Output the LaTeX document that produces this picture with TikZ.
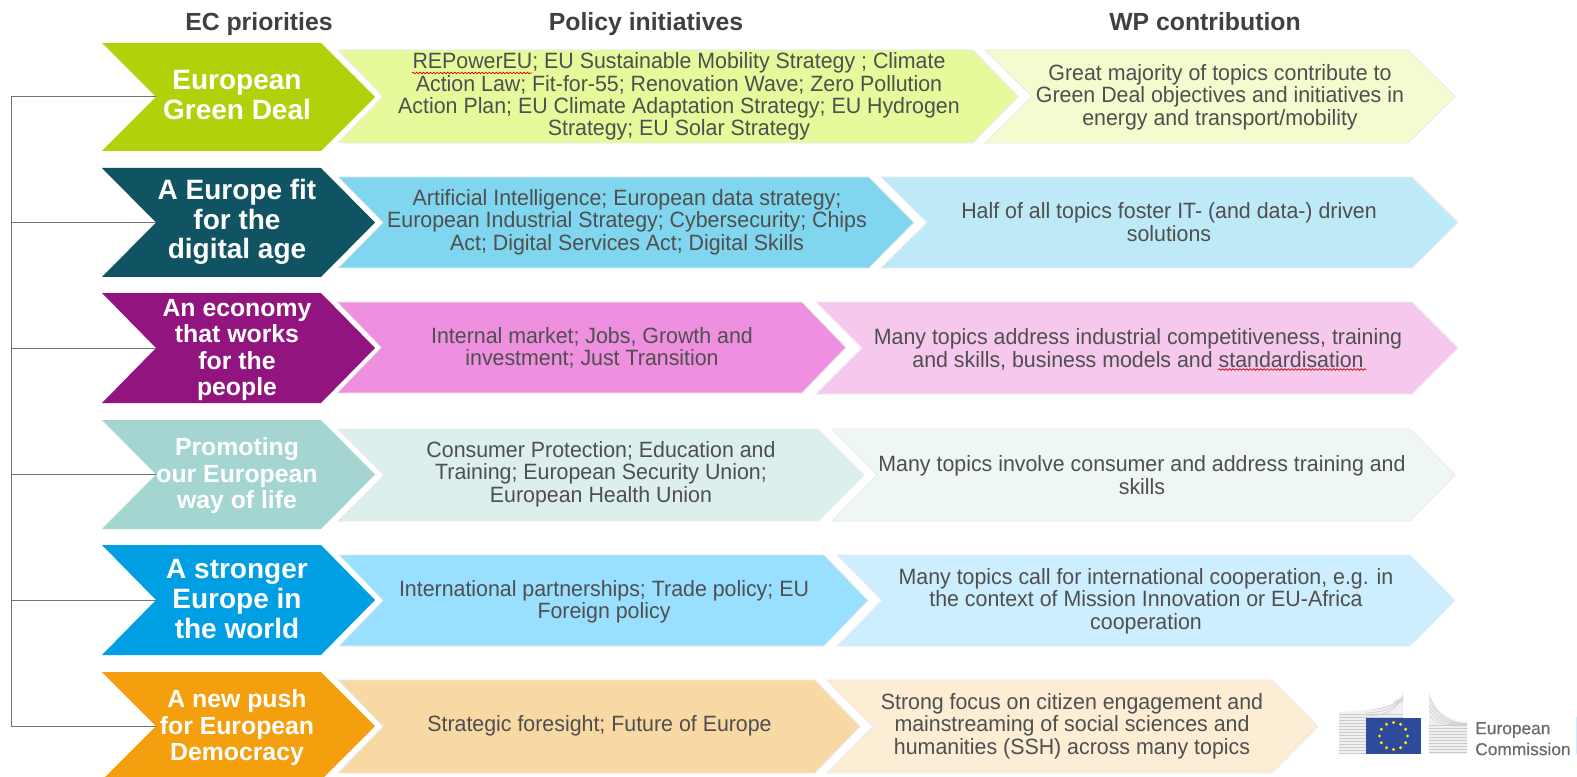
\documentclass[tikz,border=0pt]{standalone}
\usepackage{fontspec}
\setmainfont{Liberation Sans}
\newfontfamily\bodyf[FakeStretch=0.965]{Liberation Sans}
\newfontfamily\logof[FakeBold=0.5]{Liberation Sans}
\usetikzlibrary{decorations.pathmorphing}
\definecolor{txtdark}{HTML}{4F4F4F}
\definecolor{headc}{HTML}{404040}
\definecolor{flagblue}{HTML}{2E4A9C}
\definecolor{sliver}{HTML}{CCEEFF}
\tikzset{
  x=0.75pt,y=-0.75pt,
  lab/.style={inner sep=0pt,align=center,anchor=center},
  head/.style={inner sep=0pt,anchor=base,font=\fontsize{18.6pt}{20pt}\selectfont\bfseries,text=headc},
  body/.style={lab,yshift=-1.5pt,font=\bodyf\fontsize{16.6pt}{16.75pt}\selectfont,text=txtdark},
  bigw/.style={lab,font=\fontsize{21pt}{22.2pt}\selectfont\bfseries,text=white},
  smallw/.style={lab,font=\fontsize{18.6pt}{19.9pt}\selectfont\bfseries,text=white},
  logotext/.style={lab,anchor=west,text=black!58,font=\logof\fontsize{13pt}{14pt}\selectfont},
  conn/.style={draw=black!55,line width=0.75pt},
  squig/.style={draw=red!80!black,line width=0.5pt,decorate,decoration={snake,amplitude=0.6pt,segment length=2.6pt}},
  Aa/.code={\definecolor{cf}{HTML}{#1}\pgfkeysalso{fill=cf,draw=none}},
  Bb/.code={\definecolor{cf}{HTML}{#1}\pgfkeysalso{fill=cf,draw=black!8,line width=0.7pt}},
}
% name, fill style, x0, xTopRight, xTip, yTop, yBottom, text position, node style+text
\newcommand\chev[9]{%
  \path[#2] (#3,#6) -- (#4,#6) -- (#5,{(#6+#7)/2}) -- (#4,#7) -- (#3,#7) -- ({#3+#5-#4},{(#6+#7)/2}) -- cycle;
  \coordinate (#1-n) at ({#3+#5-#4},{(#6+#7)/2});
  \node[#9] (#1) at #8}
\begin{document}
\begin{tikzpicture}
\clip (0,0) rectangle (1577,777);
\fill[white] (0,0) rectangle (1577,777);
% headings
\node[head] (h1) at (259,30.5) {EC priorities};
\node[head] (h2) at (646,30.5) {Policy initiatives};
\node[head] (h3) at (1205,30.5) {WP contribution};
% row 1
\chev{a1}{Aa=AFD20B}{102}{321}{375}{43}{151}{(237,95)}{bigw}{European\\Green Deal};
\chev{b1}{Bb=E6F99B}{338}{973}{1018}{50}{143}{(679,94.5)}{body}{REPowerEU; EU Sustainable Mobility Strategy ; Climate\\Action Law; Fit-for-55; Renovation Wave; Zero Pollution\\Action Plan; EU Climate Adaptation Strategy; EU Hydrogen\\Strategy; EU Solar Strategy};
\chev{c1}{Bb=F3FBCF}{985}{1408}{1455}{50}{143}{(1220,95)}{body}{Great majority of topics contribute to\\Green Deal objectives and initiatives in\\energy and transport/mobility};
% row 2
\chev{a2}{Aa=105362}{102}{321}{375}{168}{277}{(237,222)}{bigw}{A Europe fit\\for the\\digital age};
\chev{b2}{Bb=80D6EE}{338}{869}{914}{177}{268}{(627,220)}{body}{Artificial Intelligence; European data strategy;\\European Industrial Strategy; Cybersecurity; Chips\\Act; Digital Services Act; Digital Skills};
\chev{c2}{Bb=BEEAF7}{881}{1412}{1458}{177}{268}{(1169,220)}{body}{Half of all topics foster IT- (and data-) driven\\solutions};
% row 3
\chev{a3}{Aa=92157F}{102}{321}{375}{293}{403}{(237,350)}{smallw}{An economy\\that works\\for the\\people};
\chev{b3}{Bb=EE8FDF}{337}{802}{846}{302}{393}{(592,346)}{body}{Internal market; Jobs, Growth and\\investment; Just Transition};
\chev{c3}{Bb=F6C8EE}{816}{1412}{1458}{302}{394}{(1138,347.5)}{body}{Many topics address industrial competitiveness, training\\and skills, business models and standardisation};
% row 4
\chev{a4}{Aa=A4D5D0}{102}{321}{375}{420}{529}{(237,476)}{smallw}{Promoting\\our European\\way of life};
\chev{b4}{Bb=DCEFEC}{338}{818}{864}{429}{521}{(601,472)}{body}{Consumer Protection; Education and\\Training; European Security Union;\\European Health Union};
\chev{c4}{Bb=EEF7F6}{832}{1410}{1455}{429}{521}{(1142,473)}{body}{Many topics involve consumer and address training and\\skills};
% row 5
\chev{a5}{Aa=009FE3}{102}{321}{375}{545}{655}{(237,599)}{bigw}{A stronger\\Europe in\\the world};
\chev{b5}{Bb=99DFFF}{339}{824}{868}{555}{646}{(604,599.5)}{body}{International partnerships; Trade policy; EU\\Foreign policy};
\chev{c5}{Bb=CCEEFF}{837}{1410}{1455}{555}{646}{(1146,599)}{body}{Many topics call for international cooperation, e.g. in\\the context of Mission Innovation or EU-Africa\\cooperation};
% row 6
\chev{a6}{Aa=F49F0E}{102}{321}{375}{672}{780}{(237,728)}{smallw}{A new push\\for European\\Democracy};
\chev{b6}{Bb=F8D9A4}{338}{815}{860}{680}{773}{(599.5,724)}{body}{Strategic foresight; Future of Europe};
\chev{c6}{Bb=FDEDD4}{827}{1272}{1318}{680}{773}{(1072,724)}{body}{Strong focus on citizen engagement and\\mainstreaming of social sciences and\\humanities (SSH) across many topics};
% spell-check underlines
\coordinate (s1a) at (412,73); \coordinate (s1b) at (532,73);
\coordinate (s2a) at (1218,369.5); \coordinate (s2b) at (1366,369.5);
\draw[squig] (s1a) -- (s1b);
\draw[squig] (s2a) -- (s2b);
% bracket
\coordinate (spine) at (11,0);
\draw[conn] (a1-n -| spine) -- (a6-n -| spine);
\foreach \r in {a1,a2,a3,a4,a5,a6} \draw[conn] (\r-n) -- (\r-n -| spine);
% logo
\begin{scope}
  \path[clip] (1339,754) -- (1339,712) .. controls (1365,710) and (1392,712) .. (1403,692) -- (1403,718) -- (1366,718) -- (1366,754) -- cycle;
  \fill[black!6] (1335,688) rectangle (1405,756);
  \foreach \yy in {714,717,...,754} \draw[black!20,line width=0.4pt] (1335,\yy) -- (1405,\yy);
  \foreach \xx in {0,1,2,3,4} \draw[black!20,line width=0.4pt] (1366,716-\xx*3) .. controls (1385,715-\xx*3) and (1396,712-\xx*4) .. (1405,692+\xx*3);
\end{scope}
\begin{scope}
  \path[clip] (1429,693) .. controls (1434,708) and (1443,720) .. (1467,722) -- (1467,754) -- (1429,754) -- cycle;
  \fill[black!6] (1425,688) rectangle (1470,756);
  \foreach \yy in {725,728,...,754} \draw[black!20,line width=0.4pt] (1425,\yy) -- (1470,\yy);
  \foreach \xx in {0,1,2,3,4} \draw[black!20,line width=0.4pt] (1429,695+\xx*5) .. controls (1436,712+\xx*3) and (1444,722+\xx) .. (1467,724);
\end{scope}
\fill[flagblue] (1366,718) rectangle (1421,754);
\foreach \a in {0,30,...,330} \fill[yellow!85!orange] ({1393.5+14*cos(\a)},{736+13.5*sin(\a)}) circle[radius=1.7];
\node[logotext] (ec1) at (1475,730) {European};
\node[logotext] (ec2) at (1475,749) {Commission};
\fill[sliver] (1576,717) rectangle (1577,754);
\end{tikzpicture}
\end{document}
